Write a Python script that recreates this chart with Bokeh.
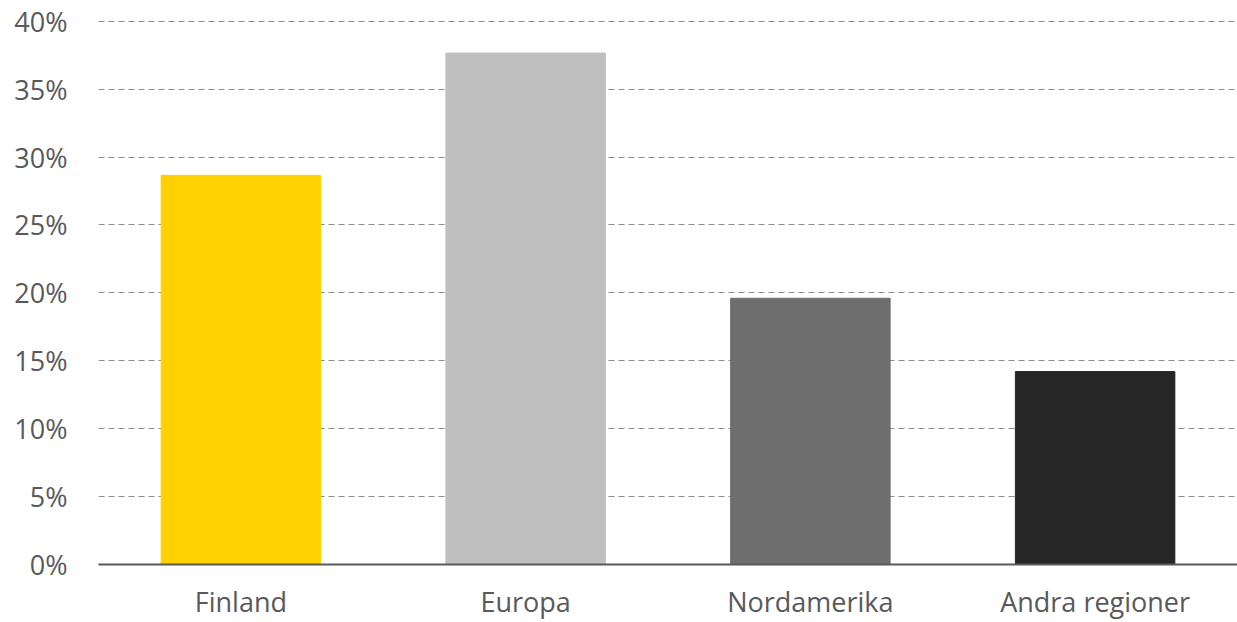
from bokeh.plotting import figure
from bokeh.models import ColumnDataSource, FactorRange, Range1d, NumeralTickFormatter, FixedTicker
from bokeh.embed import file_html
from bokeh.resources import INLINE

regions = ["Finland", "Europa", "Nordamerika", "Andra regioner"]
shares = [0.2865, 0.3765, 0.196, 0.142]
colors = ["#FFD100", "#BFBFBF", "#6E6E6E", "#262626"]
y_ticks = [0.0, 0.05, 0.10, 0.15, 0.20, 0.25, 0.30, 0.35, 0.40]

src = ColumnDataSource(dict(region=regions, share=shares, color=colors))

p = figure(width=1237, height=622, output_backend="svg", toolbar_location=None,
           x_range=FactorRange(*regions, range_padding=0),
           y_range=Range1d(0, 0.4005),
           min_border_left=98, min_border_right=0, min_border_top=20, min_border_bottom=58)
p.vbar(x="region", top="share", width=0.56, color="color", source=src)

p.outline_line_color = None
p.xgrid.grid_line_color = None
p.ygrid.grid_line_color = "#8C8C8C"
p.ygrid.grid_line_dash = "6 4"
p.ygrid.grid_line_width = 1
p.yaxis.ticker = FixedTicker(ticks=y_ticks)
p.yaxis.formatter = NumeralTickFormatter(format="0%")
p.yaxis.axis_line_color = None
p.yaxis.major_tick_line_color = None
p.yaxis.minor_tick_line_color = None
p.yaxis.major_tick_out = 0
p.yaxis.major_label_standoff = 31
p.xaxis.axis_line_color = "#595959"
p.xaxis.axis_line_width = 2
p.xaxis.major_tick_line_color = None
p.xaxis.major_tick_out = 0
p.xaxis.major_label_standoff = 18
for ax in (p.xaxis, p.yaxis):
    ax.major_label_text_font = "Open Sans"
    ax.major_label_text_font_size = "27px"
    ax.major_label_text_color = "#595959"

open("out.html", "w").write(file_html(p, INLINE))
